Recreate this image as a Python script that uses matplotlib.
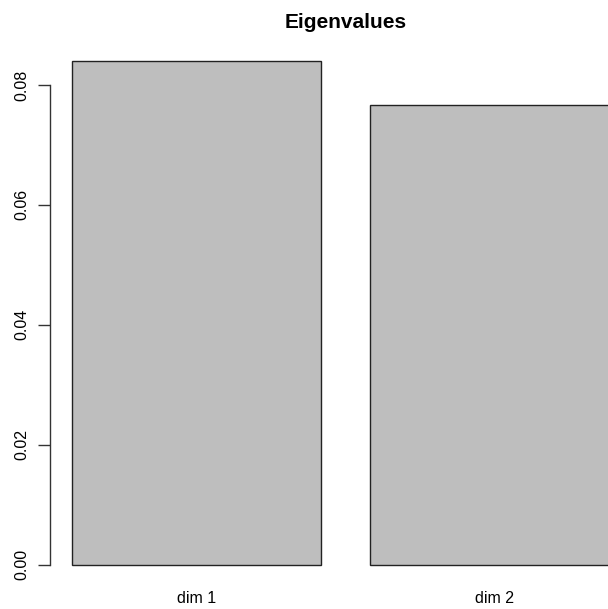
import numpy as np
import matplotlib.pyplot as plt

plt.rcParams['font.family'] = ['Liberation Sans', 'DejaVu Sans']

# eigenvalues per dimension
dims = ['dim 1', 'dim 2']
eigenvalues = [0.0840, 0.0767]
yticks = [0.00, 0.02, 0.04, 0.06, 0.08]

W, H = 608, 609
fig = plt.figure(figsize=(W / 100, H / 100), dpi=100)

# R barplot geometry: width 1, space 0.2, axes range padded by 4%
x_left = 0.2 + 1.2 * np.arange(len(dims))
x_mid = x_left + 0.5
xmin, xmax = 0.2, x_left[-1] + 1.0
xpad = 0.04 * (xmax - xmin)
ylo, yhi = -0.01 * max(eigenvalues), max(eigenvalues)
ypad = 0.04 * (yhi - ylo)

# plot region in pixels (extends past right edge as in reference)
px_left, px_right, px_top, px_bottom = 50, 641, 40.6, 590
ax = fig.add_axes([px_left / W, (H - px_bottom) / H,
                   (px_right - px_left) / W, (px_bottom - px_top) / H])

ax.bar(x_left, eigenvalues, width=1.0, align='edge', color='#BEBEBE',
       edgecolor='#222222', linewidth=1.0)

ax.set_xlim(xmin - xpad, xmax + xpad)
ax.set_ylim(ylo - ypad, yhi + ypad)

for s in ['top', 'right', 'bottom']:
    ax.spines[s].set_visible(False)
ax.spines['left'].set_bounds(yticks[0], yticks[-1])
ax.spines['left'].set_color('#333333')
ax.spines['left'].set_linewidth(1.0)

ax.set_yticks(yticks)
ax.set_yticklabels([f'{v:.2f}' for v in yticks], rotation=90, va='center')
ax.tick_params(axis='y', length=9, width=1.0, color='#333333', pad=6,
               labelsize=11.5)
ax.set_xticks(x_mid)
ax.set_xticklabels(dims)
ax.tick_params(axis='x', length=0, pad=1, labelsize=11.5)

ax.set_title('Eigenvalues', fontsize=15, fontweight='bold', pad=9)

fig.savefig('out.png', dpi=100)
